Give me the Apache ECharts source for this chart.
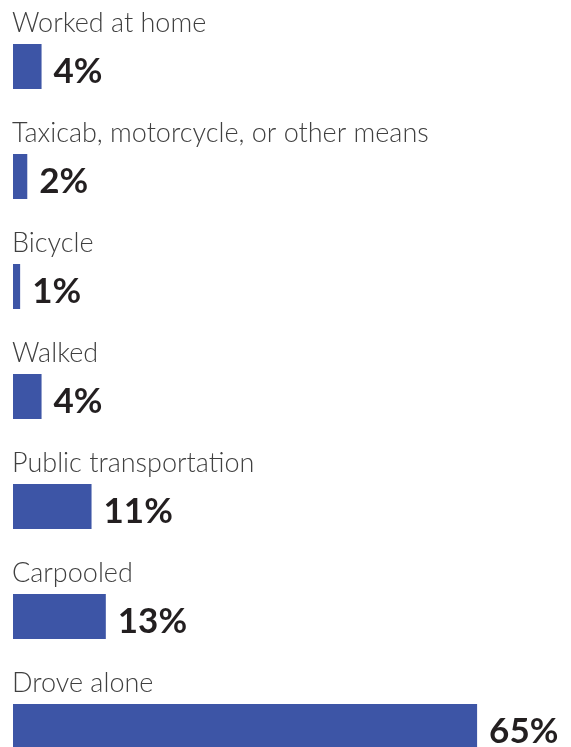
<!DOCTYPE html>
<html>
<head>
<meta charset="utf-8">
<script src="https://cdn.jsdelivr.net/npm/echarts@6/dist/echarts.min.js"></script>
<style>
  html, body { margin: 0; padding: 0; background: #fff; }
  #chart { width: 571px; height: 747px; }
</style>
</head>
<body>
<div id="chart"></div>
<script>
// commute mode share, top to bottom
const modes = [
  'Worked at home',
  'Taxicab, motorcycle, or other means',
  'Bicycle',
  'Walked',
  'Public transportation',
  'Carpooled',
  'Drove alone'
];
const shares = [4, 2, 1, 4, 11, 13, 65];

const fontFamily = 'Lato, "Open Sans", sans-serif';

const chart = echarts.init(document.getElementById('chart'));

chart.setOption({
  animation: false,
  grid: { left: 13, top: 11.5, width: 571.2, height: 770, outerBoundsMode: 'none' },
  xAxis: {
    type: 'value',
    min: 0,
    max: 80,
    show: false
  },
  yAxis: {
    type: 'category',
    data: modes,
    inverse: true,
    axisLine: { show: false },
    axisTick: { show: false },
    splitLine: { show: false },
    axisLabel: {
      inside: true,
      margin: -1,
      align: 'left',
      verticalAlign: 'bottom',
      padding: [0, 0, 30, 0],
      fontFamily,
      fontWeight: 300,
      fontSize: 27,
      color: '#404040'
    }
  },
  series: [
    {
      type: 'bar',
      data: shares,
      barWidth: 45,
      itemStyle: { color: '#3d55a6' },
      label: {
        show: true,
        position: 'right',
        distance: 12,
        offset: [0, 5],
        formatter: (p) => p.value + '%',
        fontFamily,
        fontWeight: 'bold',
        fontSize: 35,
        color: '#231f20'
      }
    }
  ]
});
</script>
</body>
</html>
